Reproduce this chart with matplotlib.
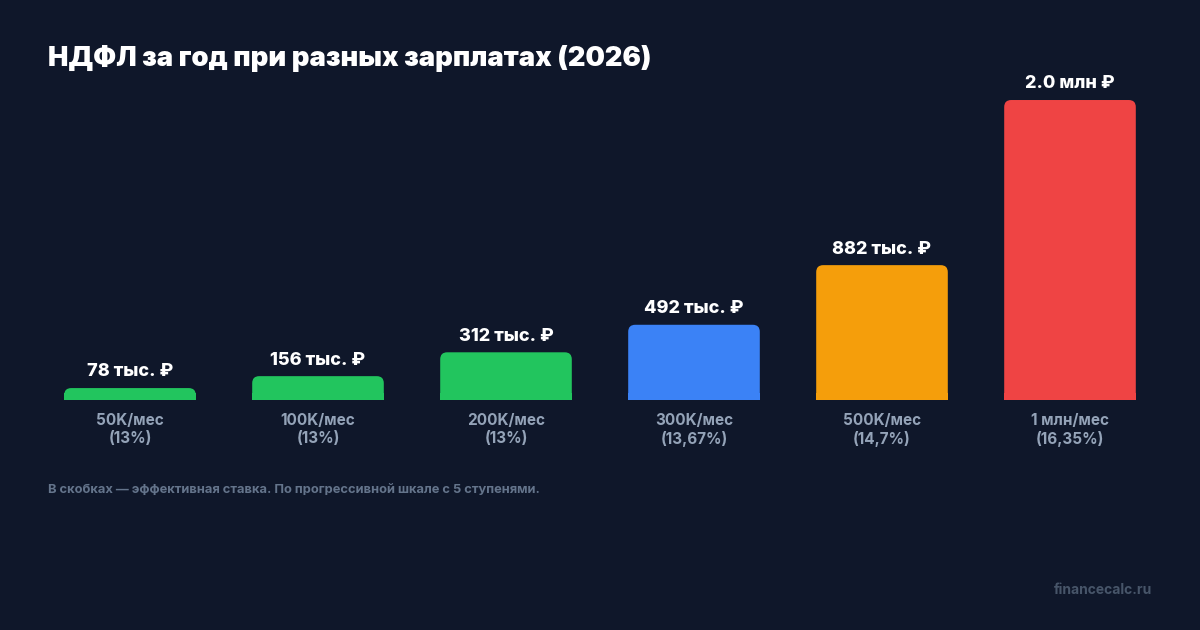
import matplotlib
matplotlib.use("Agg")
import matplotlib.pyplot as plt
from matplotlib.patches import FancyBboxPatch, Rectangle

# data
salaries = ["50K/мес", "100K/мес", "200K/мес", "300K/мес", "500K/мес", "1 млн/мес"]
rates = ["(13%)", "(13%)", "(13%)", "(13,67%)", "(14,7%)", "(16,35%)"]
tax_k = [78, 156, 312, 492, 882, 1962]
value_labels = ["78 тыс. ₽", "156 тыс. ₽", "312 тыс. ₽", "492 тыс. ₽", "882 тыс. ₽", "2.0 млн ₽"]
colors = ["#22c55e", "#22c55e", "#22c55e", "#3b82f6", "#f59e0b", "#ef4444"]

BG = "#0f172a"
plt.rcParams['font.family'] = ['Inter', 'DejaVu Sans']

W, H = 1200, 630
fig = plt.figure(figsize=(W / 100, H / 100), dpi=100, facecolor=BG)

# axes placed in pixel terms: baseline at y=400, x slots 188 px wide
ax_left, ax_w = 36, 1128
ax_base, ax_h = 400, 305.8
ax = fig.add_axes([ax_left / W, (H - ax_base) / H, ax_w / W, ax_h / H])
ax.set_facecolor(BG)
ymax = 2000
ax.set_xlim(-0.5, len(tax_k) - 0.5)
ax.set_ylim(0, ymax)
ax.axis("off")

bars = ax.bar(range(len(tax_k)), tax_k, width=0.70, color=colors)

# rounded top corners
xpp = len(tax_k) / ax_w
ypp = ymax / ax_h
aspect = ypp / xpp
r = 7 * xpp
for b, c in zip(bars, colors):
    x0, w, h = b.get_x(), b.get_width(), b.get_height()
    b.set_visible(False)
    ax.add_patch(FancyBboxPatch((x0, 0), w, h, boxstyle=f"round,pad=0,rounding_size={r}",
                                mutation_aspect=aspect, fc=c, ec="none"))
    ax.add_patch(Rectangle((x0, 0), w, min(h, r * aspect), fc=c, ec="none"))

for i, (v, lab) in enumerate(zip(tax_k, value_labels)):
    ax.annotate(lab, (i, v), xytext=(0, 5.5), textcoords="offset points",
                ha="center", va="bottom", fontsize=13, fontweight=800,
                color="white", annotation_clip=False)
    ax.annotate(salaries[i] + "\n" + rates[i], (i, 0), xytext=(0, -9.5),
                textcoords="offset points", ha="center", va="top",
                fontsize=11, fontweight="bold", color="#94a3b8",
                linespacing=1.2, annotation_clip=False)

fig.text(48 / W, 1 - 58 / H, "НДФЛ за год при разных зарплатах (2026)",
         fontsize=19.7, fontweight=900, color="white", va="center", ha="left")
fig.text(48 / W, 1 - 490 / H,
         "В скобках — эффективная ставка. По прогрессивной шкале с 5 ступенями.",
         fontsize=9.3, fontweight="bold", color="#64748b", va="center", ha="left")
fig.text(1152 / W, 1 - 590 / H, "financecalc.ru", fontsize=10,
         fontweight="bold", color="#475569", va="center", ha="right")

fig.savefig("out.png", dpi=100, facecolor=BG)
